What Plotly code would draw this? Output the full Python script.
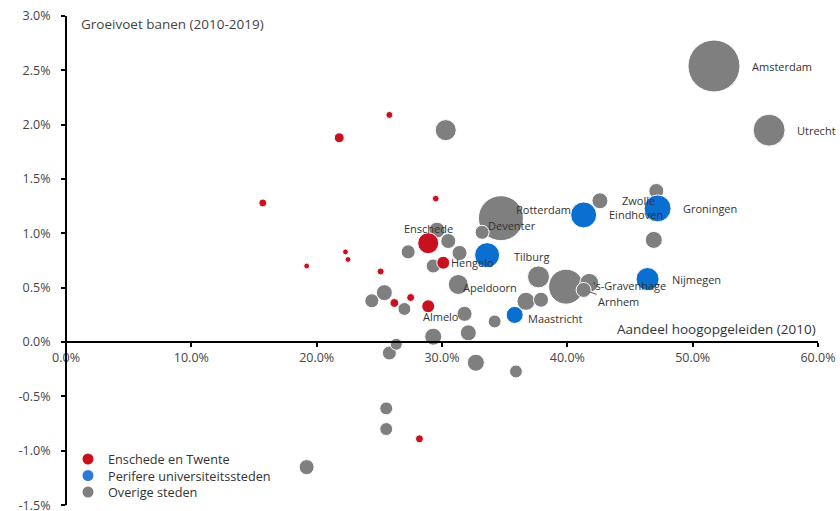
import plotly.graph_objects as go

# ---------------- data ----------------
# Enschede en Twente
twente_names = ['', '', '', '', '', '', '', '', 'Enschede', 'Hengelo', '', '', 'Almelo', '']
twente_x = [21.8, 25.8, 29.5, 15.7, 19.2, 22.3, 22.5, 25.1, 28.9, 30.1, 26.2, 27.5, 28.9, 28.2]
twente_y = [1.88, 2.09, 1.32, 1.28, 0.70, 0.83, 0.76, 0.65, 0.91, 0.73, 0.36, 0.41, 0.33, -0.89]
twente_banen = [20, 10, 9, 13, 7, 7, 7, 10, 90, 34, 16, 13, 34, 13]

# Perifere universiteitssteden
uni_names = ['Tilburg', 'Eindhoven', 'Groningen', 'Nijmegen', 'Maastricht']
uni_x = [33.6, 41.3, 47.2, 46.4, 35.8]
uni_y = [0.80, 1.17, 1.23, 0.58, 0.25]
uni_banen = [127, 137, 148, 108, 59]

# Overige steden
other_names = ['Amsterdam', 'Utrecht', 'Rotterdam', 'Deventer', '', "'s-Gravenhage", 'Arnhem',
               '', '', '', '', 'Zwolle', '', '', '', '', '', '', '', 'Apeldoorn', '', '', '',
               '', '', '', '', '', '', '', '', '', '', '']
other_x = [51.7, 56.1, 34.7, 33.2, 39.9, 41.75, 41.3, 37.7, 36.7, 37.9, 47.1, 42.6, 46.9,
           30.3, 29.6, 30.5, 27.3, 31.4, 29.3, 31.3, 25.4, 24.4, 27.0, 31.8, 29.3, 32.1,
           34.2, 26.35, 25.8, 32.7, 35.9, 25.55, 25.55, 19.2]
other_y = [2.54, 1.95, 1.14, 1.01, 0.51, 0.545, 0.48, 0.60, 0.375, 0.39, 1.39, 1.30, 0.94,
           1.95, 1.03, 0.93, 0.83, 0.82, 0.70, 0.53, 0.455, 0.38, 0.305, 0.26, 0.05, 0.085,
           0.19, -0.02, -0.10, -0.19, -0.27, -0.61, -0.80, -1.15]
other_banen = [550, 208, 412, 40, 249, 73, 46, 98, 66, 46, 46, 52, 59,
               90, 52, 46, 40, 46, 40, 81, 52, 40, 34, 46, 59, 52,
               34, 29, 40, 59, 34, 34, 34, 46]

x_ticks = [0, 10, 20, 30, 40, 50, 60]
y_ticks = [-1.5, -1.0, -0.5, 0.0, 0.5, 1.0, 1.5, 2.0, 2.5, 3.0]

legend_labels = ['Enschede en Twente', 'Perifere universiteitssteden', 'Overige steden']

# label offsets (pixels) relative to the bubble: (xshift, yshift, xanchor)
label_style = {
    'Amsterdam': (36, 0, 'left'), 'Utrecht': (26, 0, 'left'), 'Groningen': (23, 0, 'left'),
    'Zwolle': (20, 0, 'left'), 'Eindhoven': (23, 0, 'left'), 'Rotterdam': (13, 9, 'left'),
    'Deventer': (4, 7, 'left'), 'Tilburg': (25, -1, 'left'), 'Enschede': (0, 15, 'center'),
    'Hengelo': (6, 0, 'left'), 'Apeldoorn': (3, -3, 'left'), 'Almelo': (-7, -10, 'left'),
    'Maastricht': (11, -4, 'left'), "'s-Gravenhage": (2, -3, 'left'), 'Nijmegen': (22, 0, 'left'),
}

RED = '#c8101e'
BLUE = '#0a6fd0'
GREY = '#7f7f7f'
FONT = 'Open Sans'
SIZEREF = 2 * 550 / 52 ** 2

W, H = 840, 511
ML, MR, MT, MB = 66, 22, 16, 0
Y_TOP = 3.0
PX_PER_UNIT = 108.7
Y_BOTTOM = Y_TOP - (H - MT - MB) / PX_PER_UNIT


def paper_x(px):
    return (px - ML) / (W - ML - MR)


def paper_y(py):
    return (H - MB - py) / (H - MT - MB)


def sorted_by_size(names, xs, ys, vs):
    rows = sorted(zip(names, xs, ys, vs), key=lambda r: -r[3])
    return [list(c) for c in zip(*rows)]


fig = go.Figure()
groups = [
    (legend_labels[2], other_names, other_x, other_y, other_banen, GREY),
    (legend_labels[0], twente_names, twente_x, twente_y, twente_banen, RED),
    (legend_labels[1], uni_names, uni_x, uni_y, uni_banen, BLUE),
]
for label, names, xs, ys, vs, col in groups:
    n, x, y, v = sorted_by_size(names, xs, ys, vs)
    fig.add_trace(go.Scatter(
        x=x, y=y, mode='markers', name=label, text=n, showlegend=False,
        marker=dict(size=v, sizemode='area', sizeref=SIZEREF, color=col,
                    line=dict(color='white', width=1), opacity=1),
        hoverinfo='text+x+y'))

annotations = []
for names, xs, ys in [(other_names, other_x, other_y), (twente_names, twente_x, twente_y),
                      (uni_names, uni_x, uni_y)]:
    for nm, xv, yv in zip(names, xs, ys):
        if nm and nm in label_style:
            dx, dy, anc = label_style[nm]
            annotations.append(dict(x=xv, y=yv, text=nm, showarrow=False, xanchor=anc,
                                    yanchor='middle', xshift=dx, yshift=dy,
                                    font=dict(family=FONT, size=11, color='#333333')))
        elif nm == 'Arnhem':
            annotations.append(dict(x=xv, y=yv, text=nm, showarrow=True, arrowhead=0,
                                    arrowwidth=1, arrowcolor='#555555', ax=35, ay=12,
                                    standoff=6, xanchor='center',
                                    font=dict(family=FONT, size=11, color='#333333')))

annotations.append(dict(xref='paper', yref='paper', x=paper_x(79), y=paper_y(24),
                        text='Groeivoet banen (2010-2019)',
                        showarrow=False, xanchor='left', yanchor='middle',
                        font=dict(family=FONT, size=13.5, color='#444444')))
annotations.append(dict(xref='paper', yref='paper', x=1.0, y=paper_y(329),
                        text='Aandeel hoogopgeleiden (2010)',
                        showarrow=False, xanchor='right', yanchor='middle',
                        font=dict(family=FONT, size=13.5, color='#333333')))

# custom legend
legend_colors = [RED, '#2f7ad6', GREY]
shapes = []
for i, col in enumerate(legend_colors):
    py = 459 + i * 16.5
    shapes.append(dict(type='circle', xref='paper', yref='paper', xsizemode='pixel',
                       ysizemode='pixel', xanchor=paper_x(88), yanchor=paper_y(py),
                       x0=-5.5, x1=5.5, y0=-5.5, y1=5.5, fillcolor=col, line=dict(width=0)))
annotations.append(dict(xref='paper', yref='paper', x=paper_x(106), y=paper_y(475.5),
                        text='<br>'.join(legend_labels), align='left',
                        showarrow=False, xanchor='left', yanchor='middle',
                        font=dict(family=FONT, size=12.7, color='#333333')))

fig.update_layout(
    width=W, height=H,
    margin=dict(l=ML, r=MR, t=MT, b=MB),
    paper_bgcolor='white', plot_bgcolor='white',
    font=dict(family=FONT, size=12, color='#444444'),
    showlegend=False,
    annotations=annotations,
    shapes=shapes,
    xaxis=dict(range=[0, 60], tickvals=x_ticks, ticktext=[f'{t:.1f}%' for t in x_ticks],
               showgrid=False, zeroline=False, showline=True, linecolor='black', linewidth=2,
               ticks='outside', ticklen=4, tickcolor='black', tickwidth=1.5,
               anchor='free', position=(0 - Y_BOTTOM) / (Y_TOP - Y_BOTTOM), automargin=False,
               ticklabeloverflow='allow',
               tickfont=dict(family=FONT, size=12.5, color='#444444')),
    yaxis=dict(range=[Y_BOTTOM, Y_TOP], tickvals=y_ticks, ticktext=[f'{t:.1f}%' for t in y_ticks],
               showgrid=False, zeroline=False, showline=False,
               ticks='outside', ticklen=4, tickcolor='black', tickwidth=1.5,
               automargin=False, ticklabelstandoff=8, ticklabeloverflow='allow',
               tickfont=dict(family=FONT, size=12.5, color='#444444')),
)
# vertical axis line from -1.5% to 3.0%
fig.add_shape(type='line', xref='paper', yref='y', x0=0, x1=0, y0=-1.5, y1=3.0,
              line=dict(color='black', width=2), layer='above')

fig.write_html('out.html', config={'displayModeBar': False},
               post_script="document.body.style.margin='0';document.body.style.overflow='hidden';")
